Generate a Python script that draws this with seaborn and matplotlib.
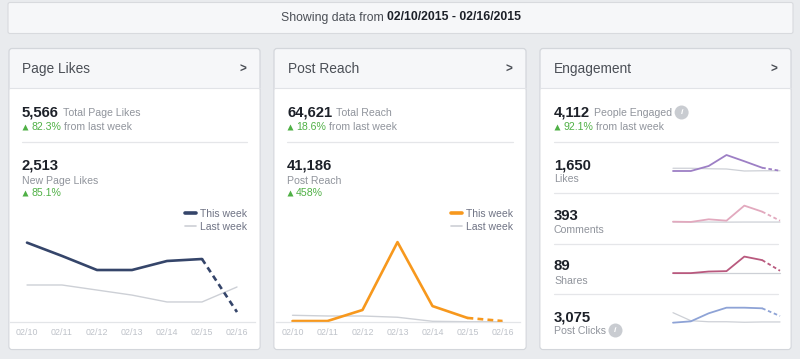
import matplotlib
matplotlib.use("Agg")
import matplotlib.pyplot as plt
import seaborn as sns
import pandas as pd
from matplotlib.patches import FancyBboxPatch
from matplotlib.lines import Line2D

# ---- data ----
DAYS = ["02/10", "02/11", "02/12", "02/13", "02/14", "02/15", "02/16"]

PAGE_LIKES_THIS = [519, 432, 340, 340, 399, 412, 65]
PAGE_LIKES_LAST = [242, 242, 209, 176, 131, 131, 229]

REACH_THIS = [350, 350, 4300, 28600, 5700, 1450, 350]
REACH_LAST = [2400, 2150, 2150, 1700, 250, 100, 100]

ENG_LIKES_THIS = [40, 40, 240, 680, 430, 170, 50]
ENG_LIKES_LAST = [150, 150, 130, 120, 40, 50, 50]
COMMENTS_THIS = [9, 6, 35, 20, 185, 119, 20]
COMMENTS_LAST = [6, 5, 5, 4, 5, 5, 5]
SHARES_THIS = [1, 1, 5, 6, 43, 34, 7]
SHARES_LAST = [1, 1, 1, 1, 1, 1, 1]
CLICKS_THIS = [15, 80, 465, 735, 735, 705, 335]
CLICKS_LAST = [495, 110, 60, 60, 35, 50, 50]

W, H = 800, 359
BG = "#e9ebee"
BORDER = "#d3d6db"
HEADER = "#f6f7f9"
DARK = "#1d2129"
TITLE = "#4b4f56"
MUTED = "#90949c"
GREEN = "#4fb045"
TICK = "#bec2c9"
LAST = "#cdd0d6"

sns.set_theme(style="white")
plt.rcParams["font.family"] = ["Liberation Sans", "DejaVu Sans"]

fig = plt.figure(figsize=(8, 3.59), dpi=100)
fig.patch.set_facecolor(BG)
bg = fig.add_axes([0, 0, 1, 1])
bg.set_xlim(0, W)
bg.set_ylim(H, 0)
bg.axis("off")


def px_axes(x0, y0, x1, y1):
    return fig.add_axes([x0 / W, 1 - y1 / H, (x1 - x0) / W, (y1 - y0) / H])


def frame():
    top = FancyBboxPatch((8, 2.5), 785, 31, boxstyle="round,pad=0,rounding_size=2",
                         fc=HEADER, ec="#d8dade", lw=0.8)
    bg.add_patch(top)
    bg.text(384, 17.5, "Showing data from", fontsize=8.8, color=TITLE, ha="right", va="center")
    bg.text(387, 17.5, "02/10/2015 - 02/16/2015", fontsize=8.8, color=DARK,
            fontweight="bold", ha="left", va="center")


def panel(x0, x1, title):
    y0, y1 = 48.5, 349.5
    bg.add_patch(FancyBboxPatch((x0, y0), x1 - x0, y1 - y0, boxstyle="round,pad=0,rounding_size=3",
                                fc=HEADER, ec=BORDER, lw=0.9))
    bg.add_patch(FancyBboxPatch((x0 + 0.6, 88), x1 - x0 - 1.2, y1 - 88 - 0.6,
                                boxstyle="round,pad=0,rounding_size=2.5", fc="white", ec="none"))
    bg.plot([x0, x1], [88, 88], color="#e1e3e7", lw=0.8)
    bg.text(x0 + 13.5, 73, title, fontsize=9.9, color=TITLE, va="baseline")
    bg.text(x1 - 17, 69.5, ">", fontsize=8.5, color=TITLE, fontweight="bold",
            ha="center", va="center")


def metric(x, y, value, label, inline=True, info=False):
    t = bg.text(x, y, value, fontsize=10.7, fontweight="bold", color=DARK, va="baseline")
    if inline:
        lab_y = y
        lab = bg.annotate(label, xy=(1, y), xycoords=(t, "data"), xytext=(4, 0),
                          textcoords="offset pixels", fontsize=7.6, color=MUTED, va="baseline")
    else:
        lab_y = y + 13.5
        lab = bg.text(x, lab_y, label, fontsize=7.6, color=MUTED, va="baseline")
    if info:
        bg.annotate("i", xy=(1, lab_y - 4), xycoords=(lab, "data"), xytext=(9.5, 0),
                    textcoords="offset pixels", fontsize=6, color="white", fontweight="bold",
                    style="italic", ha="center", va="center",
                    bbox=dict(boxstyle="circle,pad=0.42", fc="#c9ccd1", ec="none"))


def growth(x, y, pct, suffix=""):
    bg.plot(x + 2.7, y - 3.5, marker="^", ms=4.4, color=GREEN, mec="none")
    t = bg.text(x + 9, y, pct, fontsize=7.6, color=GREEN, va="baseline")
    if suffix:
        bg.annotate(suffix, xy=(1, y), xycoords=(t, "data"), xytext=(3, 0),
                    textcoords="offset pixels", fontsize=7.6, color=MUTED, va="baseline")


def week_chart(x0, x1, tick0, this, last, color, ymax, legend_right):
    ax = px_axes(x0, 200, x1, 322)
    df = pd.DataFrame({"pos": range(len(DAYS)), "this": this, "last": last})
    sns.lineplot(data=df, x="pos", y="last", ax=ax, color=LAST, lw=1.0)
    sns.lineplot(data=df.iloc[:6], x="pos", y="this", ax=ax, color=color, lw=1.9)
    sns.lineplot(data=df.iloc[5:], x="pos", y="this", ax=ax, color=color, lw=1.9,
                 linestyle=(0, (2.2, 1.6)))
    ax.set_xlim((x0 - tick0) / 35, 6 + (x1 - tick0 - 210) / 35)
    ax.set_ylim(0, ymax)
    ax.set_facecolor("none")
    for s in ["top", "left", "right"]:
        ax.spines[s].set_visible(False)
    ax.spines["bottom"].set_color("#e3e5e8")
    ax.spines["bottom"].set_linewidth(0.9)
    ax.set_xticks(range(len(DAYS)))
    ax.set_xticklabels(DAYS)
    ax.set_yticks([])
    ax.tick_params(axis="x", length=0, pad=4, labelsize=6.4, labelcolor=TICK)
    ax.set(xlabel="", ylabel="")
    handles = [Line2D([], [], color=color, lw=2.6), Line2D([], [], color=LAST, lw=1.2)]
    ax.legend(handles, ["This week", "Last week"], loc="upper right",
              bbox_to_anchor=(legend_right, 209), bbox_transform=bg.transData,
              frameon=False, fontsize=7.5, labelcolor="#6f7384", handlelength=1.05,
              handletextpad=0.4, labelspacing=0.25, borderpad=0, borderaxespad=0)


def spark(y_top, y_base, this, last, color, ymax):
    ax = px_axes(673, y_top, 780, y_base)
    df = pd.DataFrame({"pos": range(len(DAYS)), "this": this, "last": last})
    sns.lineplot(data=df, x="pos", y="last", ax=ax, color=LAST, lw=0.9, clip_on=False)
    sns.lineplot(data=df.iloc[:6], x="pos", y="this", ax=ax, color=color, lw=1.3, clip_on=False)
    sns.lineplot(data=df.iloc[5:], x="pos", y="this", ax=ax, color=color, lw=1.3,
                 linestyle=(0, (2, 1.5)), clip_on=False)
    ax.set_xlim(0, 6)
    ax.set_ylim(0, ymax)
    ax.axis("off")


frame()

# Page Likes
panel(9, 260, "Page Likes")
metric(22, 116.5, "5,566", "Total Page Likes")
growth(22, 130, "82.3%", "from last week")
bg.plot([22, 247], [142, 142], color="#e5e6e9", lw=0.9)
metric(22, 170, "2,513", "New Page Likes", inline=False)
growth(22, 196.5, "85.1%")
week_chart(10, 255, 27, PAGE_LIKES_THIS, PAGE_LIKES_LAST, "#35456a", 122 * 6.54, 247)

# Post Reach
panel(274, 526, "Post Reach")
metric(287, 116.5, "64,621", "Total Reach")
growth(287, 130, "18.6%", "from last week")
bg.plot([287, 513], [142, 142], color="#e5e6e9", lw=0.9)
metric(287, 170, "41,186", "Post Reach", inline=False)
growth(287, 196.5, "458%")
week_chart(276, 520, 292.5, REACH_THIS, REACH_LAST, "#f7981d", 122 * 358, 513)

# Engagement
panel(540, 791, "Engagement")
metric(554, 116.5, "4,112", "People Engaged", info=True)
growth(554, 130, "92.1%", "from last week")
for y in [142, 193, 243.5, 294]:
    bg.plot([554, 778], [y, y], color="#e5e6e9", lw=0.9)
metric(554, 169, "1,650", "Likes", inline=False)
metric(554, 219.5, "393", "Comments", inline=False)
metric(554, 270, "89", "Shares", inline=False)
metric(554, 321, "3,075", "Post Clicks", inline=False, info=True)

spark(154, 172, ENG_LIKES_THIS, ENG_LIKES_LAST, "#9d7fc5", 720)
spark(204, 222.5, COMMENTS_THIS, COMMENTS_LAST, "#e2a9be", 203)
spark(255, 273.5, SHARES_THIS, SHARES_LAST, "#b9597e", 47)
spark(305, 323, CLICKS_THIS, CLICKS_LAST, "#8ea3d6", 864)

fig.savefig("out.png", dpi=100, facecolor=BG)
